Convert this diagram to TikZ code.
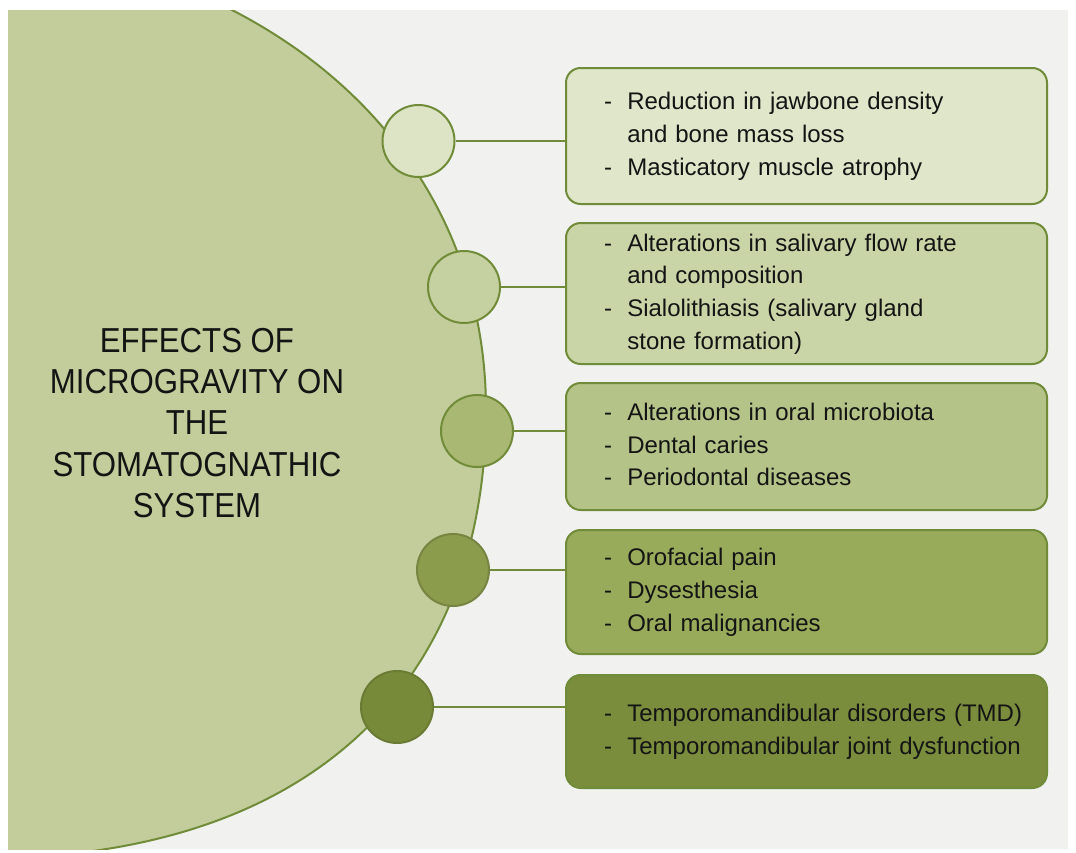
\documentclass[tikz,border=0pt]{standalone}
\usepackage{fontspec}
\setmainfont{Liberation Sans}
\newfontfamily\titlefont[FakeStretch=0.9]{Liberation Sans}
\definecolor{bgc}{HTML}{F1F1F0}
\definecolor{bigfill}{HTML}{C2CD9B}
\definecolor{edge}{HTML}{718C38}
\definecolor{cA}{HTML}{DCE4C5}
\definecolor{cB}{HTML}{C6D1A1}
\definecolor{cC}{HTML}{A9B873}
\definecolor{cD}{HTML}{8B9D4D}
\definecolor{cE}{HTML}{768A3A}
\definecolor{bA}{HTML}{DFE6C9}
\definecolor{bB}{HTML}{CAD5A7}
\definecolor{bC}{HTML}{B4C387}
\definecolor{bD}{HTML}{98AB5B}
\definecolor{bE}{HTML}{798D3D}
\definecolor{txt}{HTML}{141414}
\tikzset{
  dot/.style={circle, minimum size=54pt, inner sep=0pt, draw=edge, line width=1.5pt},
  infobox/.style={rectangle, rounded corners=11pt, draw=edge, line width=1.5pt,
    minimum width=360.75pt, text width=303.75pt, inner xsep=28.5pt, align=left,
    text=txt, font=\fontsize{18}{24.5}\selectfont},
  conn/.style={draw=edge, line width=1.5pt},
  titletext/.style={align=center, text=txt, font=\titlefont\fontsize{26}{31}\selectfont}
}
\newcommand{\itemlist}[1]{\begin{tabular}{@{}l@{\hspace{11.5pt}}l@{}}#1\end{tabular}}
\begin{document}
\begin{tikzpicture}[x=0.75pt, y=-0.75pt]
\useasboundingbox (0,0) rectangle (1076,853);
\fill[white] (0,0) rectangle (1076,853);
\fill[bgc] (8,10) rectangle (1068,849);
\begin{scope}
\clip (8,10) rectangle (1068,849);
\fill[bigfill] (-10,-10) -- (201,-6) -- (232,10) .. controls (395,94) and (486,240) .. (486,410) .. controls (486,640) and (361,811) .. (100,850) -- (30,861) -- (-10,861) -- cycle;
\draw[edge, line width=1.5pt] (201,-6) -- (232,10) .. controls (395,94) and (486,240) .. (486,410) .. controls (486,640) and (361,811) .. (100,850) -- (30,861);
\end{scope}

\node[titletext] (title) at (197,423) {EFFECTS OF\\MICROGRAVITY ON\\THE\\STOMATOGNATHIC\\SYSTEM};

\node[infobox, fill=bA, minimum height=102pt] (b1) at (806.5,136) {\itemlist{- & Reduction in jawbone density\\ & and bone mass loss\\ - & Masticatory muscle atrophy}};
\node[infobox, fill=bB, minimum height=105.75pt] (b2) at (806.5,293.5) {\itemlist{- & Alterations in salivary flow rate\\ & and composition\\ - & Sialolithiasis (salivary gland\\ & stone formation)}};
\node[infobox, fill=bC, minimum height=95.25pt] (b3) at (806.5,446.5) {\itemlist{- & Alterations in oral microbiota\\ - & Dental caries\\ - & Periodontal diseases}};
\node[infobox, fill=bD, minimum height=93pt] (b4) at (806.5,592) {\itemlist{- & Orofacial pain\\ - & Dysesthesia\\ - & Oral malignancies}};
\node[infobox, fill=bE, minimum height=84.75pt] (b5) at (806.5,731.5) {\itemlist{- & Temporomandibular disorders (TMD)\\ - & Temporomandibular joint dysfunction}};

\node[dot, fill=cA] (c1) at (418.5,141) {};
\node[dot, fill=cB] (c2) at (464,287) {};
\node[dot, fill=cC] (c3) at (477,431) {};
\node[dot, fill=cD, draw=cD!85!black] (c4) at (453,570) {};
\node[dot, fill=cE, draw=cE!90!black] (c5) at (397,707) {};

\draw[conn] (c1.east) -- (c1.east -| b1.west);
\draw[conn] (c2.east) -- (c2.east -| b2.west);
\draw[conn] (c3.east) -- (c3.east -| b3.west);
\draw[conn] (c4.east) -- (c4.east -| b4.west);
\draw[conn] (c5.east) -- (c5.east -| b5.west);
\end{tikzpicture}
\end{document}
